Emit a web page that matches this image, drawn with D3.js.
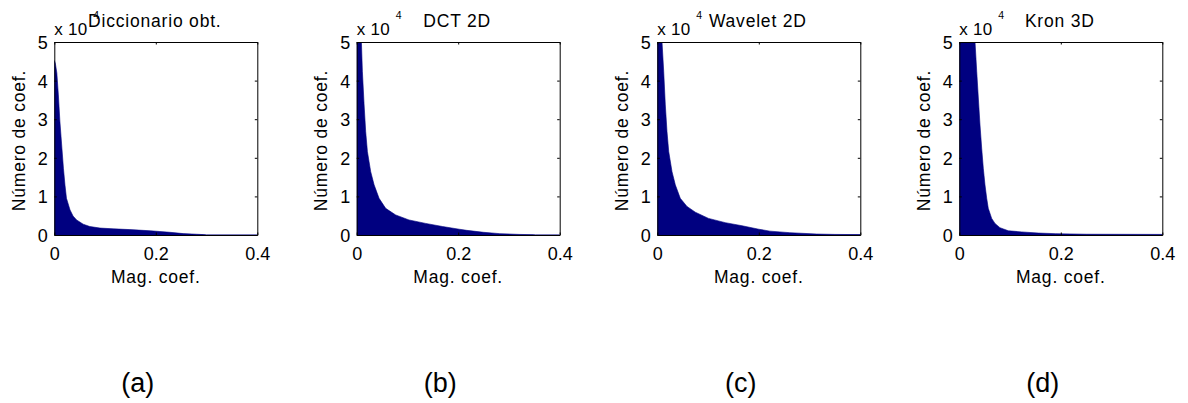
<!DOCTYPE html>
<html>
<head>
<meta charset="utf-8">
<script src="https://cdn.jsdelivr.net/npm/d3@7"></script>
<style>
  body { margin: 0; background: #fff; }
  text { font-family: "Liberation Sans", Arial, Helvetica, sans-serif; fill: #000; }
</style>
</head>
<body>
<svg id="fig" width="1188" height="403"></svg>
<script>
// Histograms of coefficient magnitudes (counts in units of 10^4)
const titles = ["Diccionario obt.", "DCT 2D", "Wavelet 2D", "Kron 3D"];
const panelTags = ["(a)", "(b)", "(c)", "(d)"];
const xTicks = [0, 0.2, 0.4];
const yTicks = [0, 1, 2, 3, 4, 5];
const xTickLabels = ["0", "0.2", "0.4"];
const yTickLabels = ["0", "1", "2", "3", "4", "5"];
const xLabel = "Mag. coef.";
const yLabel = "Número de coef.";

const dicMag   = [0, 0.002, 0.005, 0.008, 0.011, 0.015, 0.018, 0.021, 0.024, 0.031, 0.037, 0.044, 0.057, 0.070, 0.090, 0.116, 0.149, 0.175, 0.189, 0.208, 0.228, 0.254, 0.280, 0.294, 0.300, 0.400];
const dicCount = [4.52, 4.45, 4.20, 3.63, 2.95, 2.25, 1.73, 1.30, 0.95, 0.65, 0.49, 0.39, 0.28, 0.22, 0.18, 0.16, 0.14, 0.12, 0.11, 0.09, 0.07, 0.036, 0.02, 0.01, 0, 0];

const dctMag   = [0, 0.0093, 0.0112, 0.0146, 0.0177, 0.0211, 0.0276, 0.0343, 0.0441, 0.0571, 0.0768, 0.103, 0.136, 0.169, 0.202, 0.217, 0.250, 0.282, 0.320, 0.348, 0.352, 0.400];
const dctCount = [6.2, 5.0, 4.24, 3.37, 2.68, 2.16, 1.64, 1.30, 0.95, 0.69, 0.52, 0.39, 0.30, 0.22, 0.15, 0.12, 0.07, 0.035, 0.015, 0.008, 0, 0];

const wavMag   = [0, 0.0093, 0.0126, 0.0158, 0.0191, 0.0225, 0.029, 0.0355, 0.0453, 0.0585, 0.075, 0.101, 0.134, 0.167, 0.200, 0.222, 0.261, 0.314, 0.350, 0.400];
const wavCount = [6.2, 5.0, 4.24, 3.37, 2.68, 2.16, 1.64, 1.30, 0.95, 0.74, 0.59, 0.43, 0.32, 0.24, 0.15, 0.10, 0.06, 0.025, 0.015, 0.01];

const kronMag   = [0, 0.031, 0.0343, 0.0375, 0.0408, 0.0441, 0.0473, 0.0506, 0.054, 0.0571, 0.0638, 0.0703, 0.080, 0.0966, 0.123, 0.156, 0.189, 0.250, 0.400];
const kronCount = [6.0, 5.0, 4.24, 3.55, 2.85, 2.25, 1.73, 1.30, 0.95, 0.69, 0.43, 0.30, 0.19, 0.11, 0.08, 0.05, 0.035, 0.02, 0.015];

const series = [
  { mag: dicMag,  count: dicCount },
  { mag: dctMag,  count: dctCount },
  { mag: wavMag,  count: wavCount },
  { mag: kronMag, count: kronCount }
];

// Layout
const axLeft = [54.3, 356.7, 657.3, 959.3];
const axW = 203, axTop = 42, axH = 193;
const fillColor = "#000080";
const tickLen = 2.5;

const svg = d3.select("#fig");

series.forEach((s, i) => {
  const x0 = axLeft[i];
  const x = d3.scaleLinear().domain([0, 0.4]).range([x0, x0 + axW]);
  const y = d3.scaleLinear().domain([0, 5]).range([axTop + axH, axTop]);
  const g = svg.append("g");

  const clipId = "clip" + i;
  svg.append("clipPath").attr("id", clipId)
    .append("rect").attr("x", x0).attr("y", axTop).attr("width", axW).attr("height", axH);

  const pts = s.mag.map((m, k) => [m, s.count[k]]);
  const area = d3.area()
    .x(d => x(d[0]))
    .y0(y(0))
    .y1(d => y(d[1]));
  g.append("path")
    .datum(pts)
    .attr("clip-path", `url(#${clipId})`)
    .attr("d", area)
    .attr("fill", fillColor)
    .attr("stroke", fillColor)
    .attr("stroke-width", 0.6);

  // Axes box with inward ticks on all sides
  const bottom = d3.axisBottom(x).tickValues(xTicks).tickSizeInner(-tickLen).tickSizeOuter(0).tickFormat((d, k) => xTickLabels[k]);
  const top = d3.axisTop(x).tickValues(xTicks).tickSizeInner(-tickLen).tickSizeOuter(0).tickFormat("");
  const left = d3.axisLeft(y).tickValues(yTicks).tickSizeInner(-tickLen).tickSizeOuter(0).tickFormat((d, k) => yTickLabels[k]);
  const right = d3.axisRight(y).tickValues(yTicks).tickSizeInner(-tickLen).tickSizeOuter(0).tickFormat("");

  const gb = g.append("g").attr("transform", `translate(0,${axTop + axH})`).call(bottom);
  const gt = g.append("g").attr("transform", `translate(0,${axTop})`).call(top);
  const gl = g.append("g").attr("transform", `translate(${x0},0)`).call(left);
  const gr = g.append("g").attr("transform", `translate(${x0 + axW},0)`).call(right);

  [gb, gt, gl, gr].forEach(a => {
    a.selectAll(".domain").attr("stroke", "#000").attr("stroke-width", 1);
    a.selectAll(".tick line").attr("stroke", "#000").attr("stroke-width", 1);
  });
  gb.selectAll(".tick text")
    .attr("font-size", 18).attr("font-family", null)
    .attr("y", 0).attr("dy", null)
    .attr("transform", "translate(0,25)");
  gl.selectAll(".tick text")
    .attr("font-size", 18).attr("font-family", null)
    .attr("x", -6.5).attr("dy", "0.36em");

  // Axis labels
  g.append("text")
    .attr("x", x0 + axW / 2).attr("y", axTop + axH + 48)
    .attr("text-anchor", "middle").attr("font-size", 17.5).attr("letter-spacing", 0.8)
    .text(xLabel);
  g.append("text")
    .attr("transform", `translate(${x0 - 29.5},${axTop + axH / 2 + 2}) rotate(-90)`)
    .attr("text-anchor", "middle").attr("font-size", 17.5).attr("letter-spacing", 0.8)
    .text(yLabel);

  // Exponent marker
  g.append("text")
    .attr("x", x0).attr("y", 34.5)
    .attr("font-size", 17).attr("letter-spacing", 0.3)
    .text("x 10");
  g.append("text")
    .attr("x", x0 + 39).attr("y", 19)
    .attr("font-size", 10.5)
    .text("4");

  // Title
  g.append("text")
    .attr("x", x0 + axW / 2 - 1).attr("y", 27)
    .attr("text-anchor", "middle").attr("font-size", 17.5).attr("letter-spacing", 0.8)
    .text(titles[i]);

  // Panel tag
  svg.append("text")
    .attr("x", x0 + axW / 2 - 18).attr("y", 392)
    .attr("text-anchor", "middle").attr("font-size", 27)
    .text(panelTags[i]);
});
</script>
</body>
</html>
